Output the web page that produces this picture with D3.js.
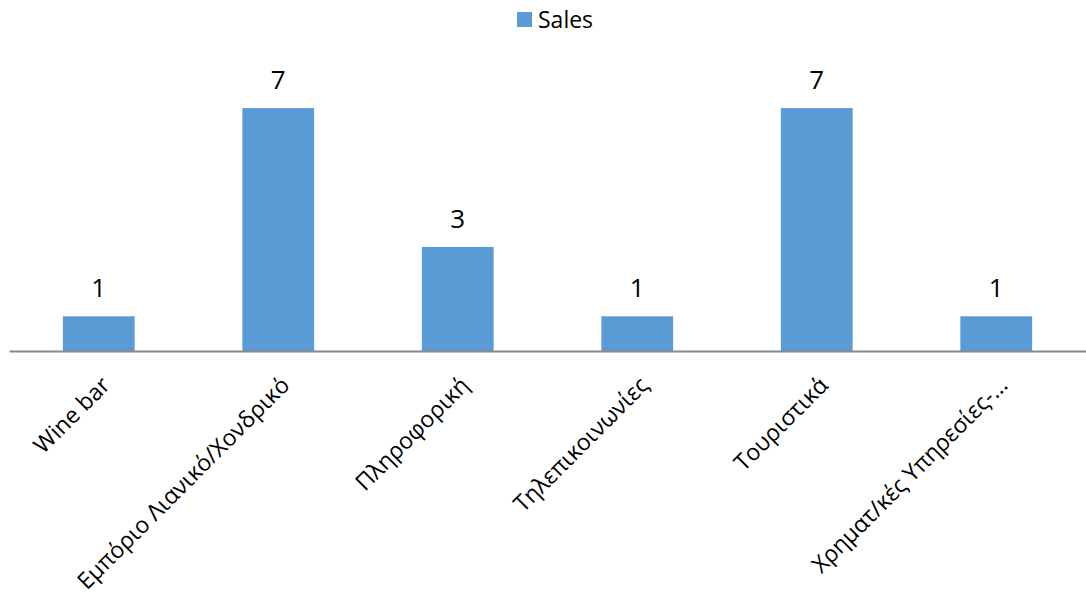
<!DOCTYPE html>
<html>
<head>
<meta charset="utf-8">
<script src="https://cdn.jsdelivr.net/npm/d3@7"></script>
<style>
  body { margin: 0; background: #fff; }
  text { font-family: "Open Sans", "Noto Sans", sans-serif; fill: #000; }
</style>
</head>
<body>
<div id="chart"></div>
<script>
const width = 1086, height = 599;

// data
const categories = ["Wine bar", "Εμπόριο Λιανικό/Χονδρικό", "Πληροφορική",
                    "Τηλεπικοινωνίες", "Τουριστικά", "Χρηματ/κές Υπηρεσίες-..."];
const sales = [1, 7, 3, 1, 7, 1];
const seriesName = "Sales";

const baseY = 351;

const x = d3.scaleBand()
    .domain(categories)
    .range([9, 1086])
    .paddingInner(0.6)
    .paddingOuter(0.3);

const y = d3.scaleLinear()
    .domain([0, 8])
    .range([baseY, 73.4]);

const svg = d3.select("#chart").append("svg")
    .attr("width", width)
    .attr("height", height);

// bars
svg.append("g").selectAll("rect")
    .data(sales)
    .enter()
    .append("rect")
    .attr("x", (d, i) => x(categories[i]))
    .attr("y", d => y(d))
    .attr("width", x.bandwidth())
    .attr("height", d => y(0) - y(d))
    .attr("fill", "#5b9bd5");

// data labels
svg.append("g").selectAll("text")
    .data(sales)
    .enter()
    .append("text")
    .attr("x", (d, i) => x(categories[i]) + x.bandwidth() / 2)
    .attr("y", d => y(d) - 19)
    .attr("text-anchor", "middle")
    .attr("font-size", "26px")
    .text(d => d);

// x axis
const xAxis = svg.append("g")
    .attr("transform", `translate(0,${baseY})`)
    .call(d3.axisBottom(x).tickSize(0).tickSizeOuter(0));

xAxis.select(".domain")
    .attr("stroke", "#898989")
    .attr("stroke-width", 2);

xAxis.selectAll(".tick text")
    .attr("font-family", "Open Sans, Noto Sans, sans-serif")
    .attr("font-size", "23px")
    .attr("fill", "#000")
    .attr("text-anchor", "end")
    .attr("dy", "0.35em")
    .attr("y", 0)
    .attr("transform", "translate(7,30) rotate(-45)");

// legend
const legend = svg.append("g").attr("transform", "translate(517,12)");
legend.append("rect")
    .attr("width", 15)
    .attr("height", 15)
    .attr("fill", "#5b9bd5");
legend.append("text")
    .attr("x", 21)
    .attr("y", 16)
    .attr("font-size", "23px")
    .text(seriesName);
</script>
</body>
</html>
